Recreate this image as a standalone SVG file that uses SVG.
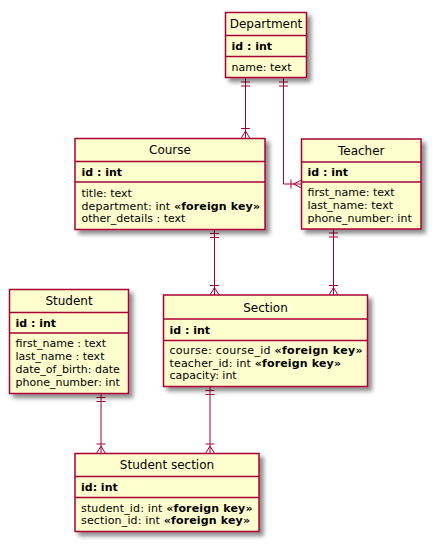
<svg xmlns="http://www.w3.org/2000/svg" width="435" height="553" viewBox="0 0 435 553">
<defs>
<filter id="sh" x="-10%" y="-10%" width="130%" height="130%">
<feGaussianBlur in="SourceAlpha" stdDeviation="2"/>
<feOffset dx="4" dy="4" result="b"/>
<feComponentTransfer in="b" result="c"><feFuncA type="linear" slope="0.45"/></feComponentTransfer>
<feMerge><feMergeNode in="c"/><feMergeNode in="SourceGraphic"/></feMerge>
</filter>
</defs>
<style>
.box{fill:#FEFECE;stroke:#A80036;stroke-width:1.5;filter:url(#sh)}
.sep{stroke:#A80036;stroke-width:1.5;fill:none}
.t{font-family:"DejaVu Sans","Noto Sans",sans-serif;font-size:12px;fill:#000;text-anchor:middle}
.a{font-family:"DejaVu Sans","Noto Sans",sans-serif;font-size:11px;fill:#000}
.b{font-weight:bold}
.ln{stroke:#A80036;stroke-width:1;fill:none}
</style>
<rect width="435" height="553" fill="#ffffff"/>

<g id="connectors">
<!-- Department -> Course -->
<path class="ln" d="M245.5,77.5 V138.5 M241,82 H250 M241,86 H250 M241,128.5 H250 M245.5,131 L241,138.5 M245.5,131 L250,138.5"/>
<!-- Department -> Teacher -->
<path class="ln" d="M283.5,77.5 V184 H301.5 M279,82 H288 M279,86 H288 M291,179.5 V188.5 M293.5,184 L301.5,180 M293.5,184 L301.5,188"/>
<!-- Course -> Section -->
<path class="ln" d="M214.5,229.5 V295 M210,233.5 H219 M210,237.5 H219 M210,285.5 H219 M214.5,287.5 L210,295 M214.5,287.5 L219,295"/>
<!-- Teacher -> Section -->
<path class="ln" d="M333.5,229 V295 M329,233 H338 M329,237 H338 M329,285.5 H338 M333.5,287.5 L329,295 M333.5,287.5 L338,295"/>
<!-- Student -> Student section -->
<path class="ln" d="M101,393.5 V453.5 M96.5,397.5 H105.5 M96.5,401.5 H105.5 M96.5,444 H105.5 M101,446 L96.5,453.5 M101,446 L105.5,453.5"/>
<!-- Section -> Student section -->
<path class="ln" d="M210,386.5 V453.5 M205.5,390.5 H214.5 M205.5,394.5 H214.5 M205.5,444 H214.5 M210,446 L205.5,453.5 M210,446 L214.5,453.5"/>
</g>

<g id="department">
<rect class="box" x="225.5" y="12.5" width="81" height="65"/>
<path class="sep" d="M225.5,35.5 H306.5 M225.5,56.5 H306.5"/>
<text class="t" x="266" y="28">Department</text>
<text class="a b" x="231.5" y="49.5">id : int</text>
<text class="a" x="231.5" y="71">name: text</text>
</g>

<g id="course">
<rect class="box" x="75" y="138.5" width="190" height="91"/>
<path class="sep" d="M75,161.5 H265 M75,182 H265"/>
<text class="t" x="170" y="154">Course</text>
<text class="a b" x="81.5" y="176">id : int</text>
<text class="a" x="81.5" y="196.5">title: text</text>
<text class="a" x="81.5" y="209.5" textLength="178.5" lengthAdjust="spacing">department: int <tspan class="b">«foreign key»</tspan></text>
<text class="a" x="81.5" y="222">other_details : text</text>
</g>

<g id="teacher">
<rect class="box" x="301.5" y="139" width="119.5" height="90"/>
<path class="sep" d="M301.5,162 H421 M301.5,182 H421"/>
<text class="t" x="361.25" y="154.5">Teacher</text>
<text class="a b" x="307.5" y="176">id : int</text>
<text class="a" x="307.5" y="196">first_name: text</text>
<text class="a" x="307.5" y="209">last_name: text</text>
<text class="a" x="307.5" y="222">phone_number: int</text>
</g>

<g id="section">
<rect class="box" x="163.5" y="295" width="204" height="91.5"/>
<path class="sep" d="M163.5,319 H367.5 M163.5,340.5 H367.5"/>
<text class="t" x="265.5" y="311.5">Section</text>
<text class="a b" x="169.5" y="333.5">id : int</text>
<text class="a" x="169.5" y="354" textLength="193" lengthAdjust="spacing">course: course_id <tspan class="b">«foreign key»</tspan></text>
<text class="a" x="169.5" y="366.5" textLength="171.5" lengthAdjust="spacing">teacher_id: int <tspan class="b">«foreign key»</tspan></text>
<text class="a" x="169.5" y="379">capacity: int</text>
</g>

<g id="student">
<rect class="box" x="9.5" y="289.5" width="119" height="104"/>
<path class="sep" d="M9.5,312.5 H128.5 M9.5,333 H128.5"/>
<text class="t" x="69" y="304.5">Student</text>
<text class="a b" x="15.5" y="326.5">id : int</text>
<text class="a" x="15.5" y="347">first_name : text</text>
<text class="a" x="15.5" y="360">last_name : text</text>
<text class="a" x="15.5" y="373">date_of_birth: date</text>
<text class="a" x="15.5" y="385.5">phone_number: int</text>
</g>

<g id="student-section">
<rect class="box" x="75" y="453.5" width="184" height="78"/>
<path class="sep" d="M75,476.5 H259 M75,497.5 H259"/>
<text class="t" x="167" y="468.5">Student section</text>
<text class="a b" x="81" y="490.5">id: int</text>
<text class="a" x="81" y="511.5" textLength="171.5" lengthAdjust="spacing">student_id: int <tspan class="b">«foreign key»</tspan></text>
<text class="a" x="81" y="524" textLength="169" lengthAdjust="spacing">section_id: int <tspan class="b">«foreign key»</tspan></text>
</g>
</svg>
